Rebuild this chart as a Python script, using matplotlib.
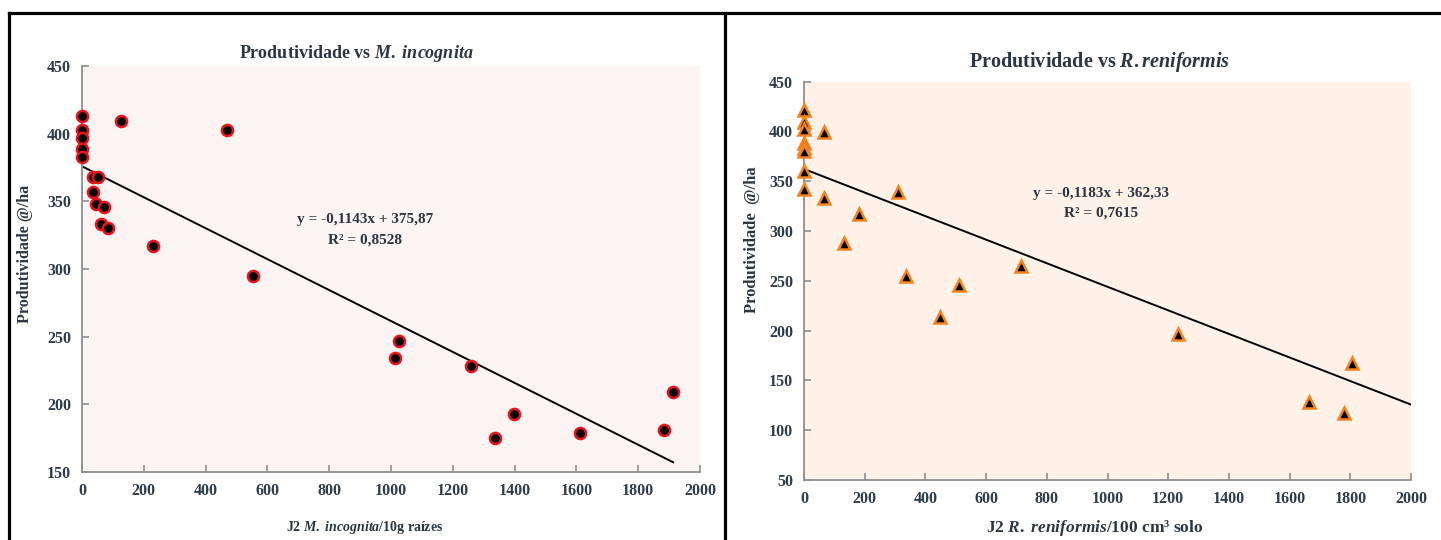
import matplotlib
matplotlib.use("Agg")
import matplotlib.pyplot as plt
from matplotlib.lines import Line2D
import numpy as np

plt.rcParams['font.family'] = ['Liberation Serif', 'DejaVu Serif']
plt.rcParams['font.weight'] = 'bold'
plt.rcParams['mathtext.fontset'] = 'custom'
plt.rcParams['mathtext.rm'] = 'Liberation Serif:bold'
plt.rcParams['mathtext.it'] = 'Liberation Serif:italic:bold'
plt.rcParams['mathtext.bf'] = 'Liberation Serif:bold'

# ---- data: Produtividade vs M. incognita ----
mi_x = [0, 0, 0, 0, 0, 127, 470, 37, 53, 37, 45, 72, 60, 83, 231, 555,
        1027, 1012, 1260, 1397, 1337, 1612, 1883, 1913]
mi_y = [413, 403, 397, 389, 383, 409, 403, 368, 368, 357, 348, 346, 333, 330,
        317, 295, 247, 234, 228, 193, 175, 179, 181, 209]
mi_slope, mi_intercept = -0.1143, 375.87
mi_eq = "y = -0,1143x + 375,87"
mi_r2 = "R² = 0,8528"

# ---- data: Produtividade vs R. reniformis ----
rr_x = [0, 0, 0, 0, 0, 0, 0, 0, 65, 65, 310, 182, 132, 716, 336, 511, 449,
        1232, 1663, 1778, 1806]
rr_y = [422, 410, 402, 388, 383, 380, 360, 342, 399, 333, 339, 317, 288, 265,
        255, 246, 214, 197, 128, 117, 167]
rr_slope, rr_intercept = -0.1183, 362.33
rr_eq = "y = -0,1183x + 362,33"
rr_r2 = "R² = 0,7615"

x_ticks = [0, 200, 400, 600, 800, 1000, 1200, 1400, 1600, 1800, 2000]
mi_yticks = [150, 200, 250, 300, 350, 400, 450]
rr_yticks = [50, 100, 150, 200, 250, 300, 350, 400, 450]

W, H = 1441, 540
fig = plt.figure(figsize=(W / 100, H / 100), dpi=100)
fig.patch.set_facecolor('white')

def fx(px):
    return px / W

def fy(py):
    return 1 - py / H

tick_color = '#2e3b4a'
spine_color = '#8f8f8f'
text_color = '#2b3640'

def style_axes(ax, bg, yticks, fs):
    ax.set_facecolor(bg)
    for s in ['top', 'right']:
        ax.spines[s].set_visible(False)
    for s in ['left', 'bottom']:
        ax.spines[s].set_color(spine_color)
        ax.spines[s].set_linewidth(1.3)
    ax.set_xlim(0, 2000)
    ax.set_ylim(min(yticks), max(yticks))
    ax.set_xticks(x_ticks)
    ax.set_yticks(yticks)
    ax.tick_params(direction='in', length=5, width=1.2, color=spine_color,
                   labelcolor=tick_color, labelsize=fs, pad=8)
    for lab in ax.get_xticklabels() + ax.get_yticklabels():
        lab.set_fontweight('bold')

# Left axes
ax1 = fig.add_axes([fx(82), fy(472), fx(700 - 82), (472 - 66) / H])
style_axes(ax1, '#fbf4f3', mi_yticks, 11.5)
ax1.plot(mi_x, mi_y, linestyle='none', marker='o', markersize=8,
         markerfacecolor='black', markeredgecolor='#e8141b', markeredgewidth=1.8,
         zorder=3, clip_on=False)
xl = np.array([0, max(mi_x)])
ax1.plot(xl, mi_slope * xl + mi_intercept, color='black', linewidth=1.4, zorder=2)

# Right axes
ax2 = fig.add_axes([fx(804), fy(480), fx(1411 - 804), (480 - 81.7) / H])
style_axes(ax2, '#fdf1e8', rr_yticks, 11.5)
ax2.plot(rr_x, rr_y, linestyle='none', marker='^', markersize=8,
         markerfacecolor='black', markeredgecolor='#f5821f', markeredgewidth=1.8,
         zorder=3, clip_on=False)
xr = np.array([0, 2000])
ax2.plot(xr, rr_slope * xr + rr_intercept, color='black', linewidth=1.4, zorder=2)

# Titles
fig.text(fx(356), fy(54), r"Produtividade vs $\mathit{M.\ incognita}$",
         ha='center', va='center', fontsize=13, color=text_color, fontweight='bold')
fig.text(fx(1100), fy(62), r"Produtividade vs $\mathit{R.reniformis}$",
         ha='center', va='center', fontsize=14.5, color=text_color, fontweight='bold')

# Y labels
fig.text(fx(25), fy(254), "Produtividade @/ha", rotation=90, ha='center',
         va='center', fontsize=11.5, color=text_color, fontweight='bold')
fig.text(fx(752), fy(240), "Produtividade  @/ha", rotation=90, ha='center',
         va='center', fontsize=12, color=text_color, fontweight='bold')

# X labels
fig.text(fx(365), fy(527), r"J2 $\mathit{M.\ incognita}$/10g raízes",
         ha='center', va='center', fontsize=10, color=text_color, fontweight='bold')
fig.text(fx(1095), fy(528), r"J2 $\mathit{R.\ reniformis}$/100 cm³ solo",
         ha='center', va='center', fontsize=12.5, color=text_color, fontweight='bold')

# Equations
fig.text(fx(365), fy(220), mi_eq, ha='center', va='center', fontsize=11,
         color=text_color, fontweight='bold')
fig.text(fx(365), fy(240), mi_r2, ha='center', va='center', fontsize=11,
         color=text_color, fontweight='bold')
fig.text(fx(1101), fy(193), rr_eq, ha='center', va='center', fontsize=11,
         color=text_color, fontweight='bold')
fig.text(fx(1101), fy(213), rr_r2, ha='center', va='center', fontsize=11,
         color=text_color, fontweight='bold')

# Panel frames
lw = 2.3
fig.add_artist(Line2D([fx(9), fx(W)], [fy(12.5), fy(12.5)], color='black', linewidth=lw))
fig.add_artist(Line2D([fx(9), fx(9)], [fy(12.5), 0], color='black', linewidth=lw))
fig.add_artist(Line2D([fx(725), fx(725)], [fy(12.5), 0], color='black', linewidth=lw))

fig.savefig('out.png', dpi=100, facecolor='white')
